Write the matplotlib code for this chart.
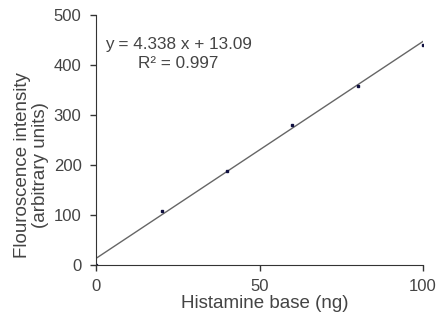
import numpy as np
import matplotlib.pyplot as plt

plt.rcParams['font.family'] = ['Liberation Sans', 'DejaVu Sans']

histamine = [0, 20, 40, 60, 80, 100]
intensity = [0, 107, 188, 279, 358, 440]
slope = 4.338
intercept = 13.09
r2 = 0.997

fig = plt.figure(figsize=(4.37, 3.23), dpi=100)
ax = fig.add_axes([0.22, 0.18, 0.748, 0.774])

xf = np.array([0, 100])
ax.plot(xf, slope * xf + intercept, color='#666666', linewidth=1.0)
ax.plot(histamine, intensity, 's', color='#101040', markersize=2)

ax.set_xlim(0, 100)
ax.set_ylim(0, 500)
ax.set_xticks([0, 50, 100])
ax.set_yticks([0, 100, 200, 300, 400, 500])
for s in ['top', 'right']:
    ax.spines[s].set_visible(False)
for s in ['left', 'bottom']:
    ax.spines[s].set_color('#333333')
ax.tick_params(direction='out', length=4.5, width=1, colors='#333333',
               labelsize=12, labelcolor='#444444', pad=6)

ax.set_xlabel('Histamine base (ng)', fontsize=13.5, color='#444444')
ax.set_ylabel('Flouroscence intensity\n(arbitrary units)', fontsize=13.5,
              color='#444444', linespacing=1.05)
# label positions in the original are a bit off-centre
ax.xaxis.set_label_coords(0.517, -0.12)
ax.yaxis.set_label_coords(-0.145, 0.40)

ax.text(0.251, 0.88, 'y = %.3f x + %.2f' % (slope, intercept), transform=ax.transAxes,
        ha='center', va='center', fontsize=12.3, color='#444444')
ax.text(0.251, 0.804, 'R² = %.3f' % r2, transform=ax.transAxes,
        ha='center', va='center', fontsize=12.3, color='#444444')

fig.savefig('out.png', dpi=100)
